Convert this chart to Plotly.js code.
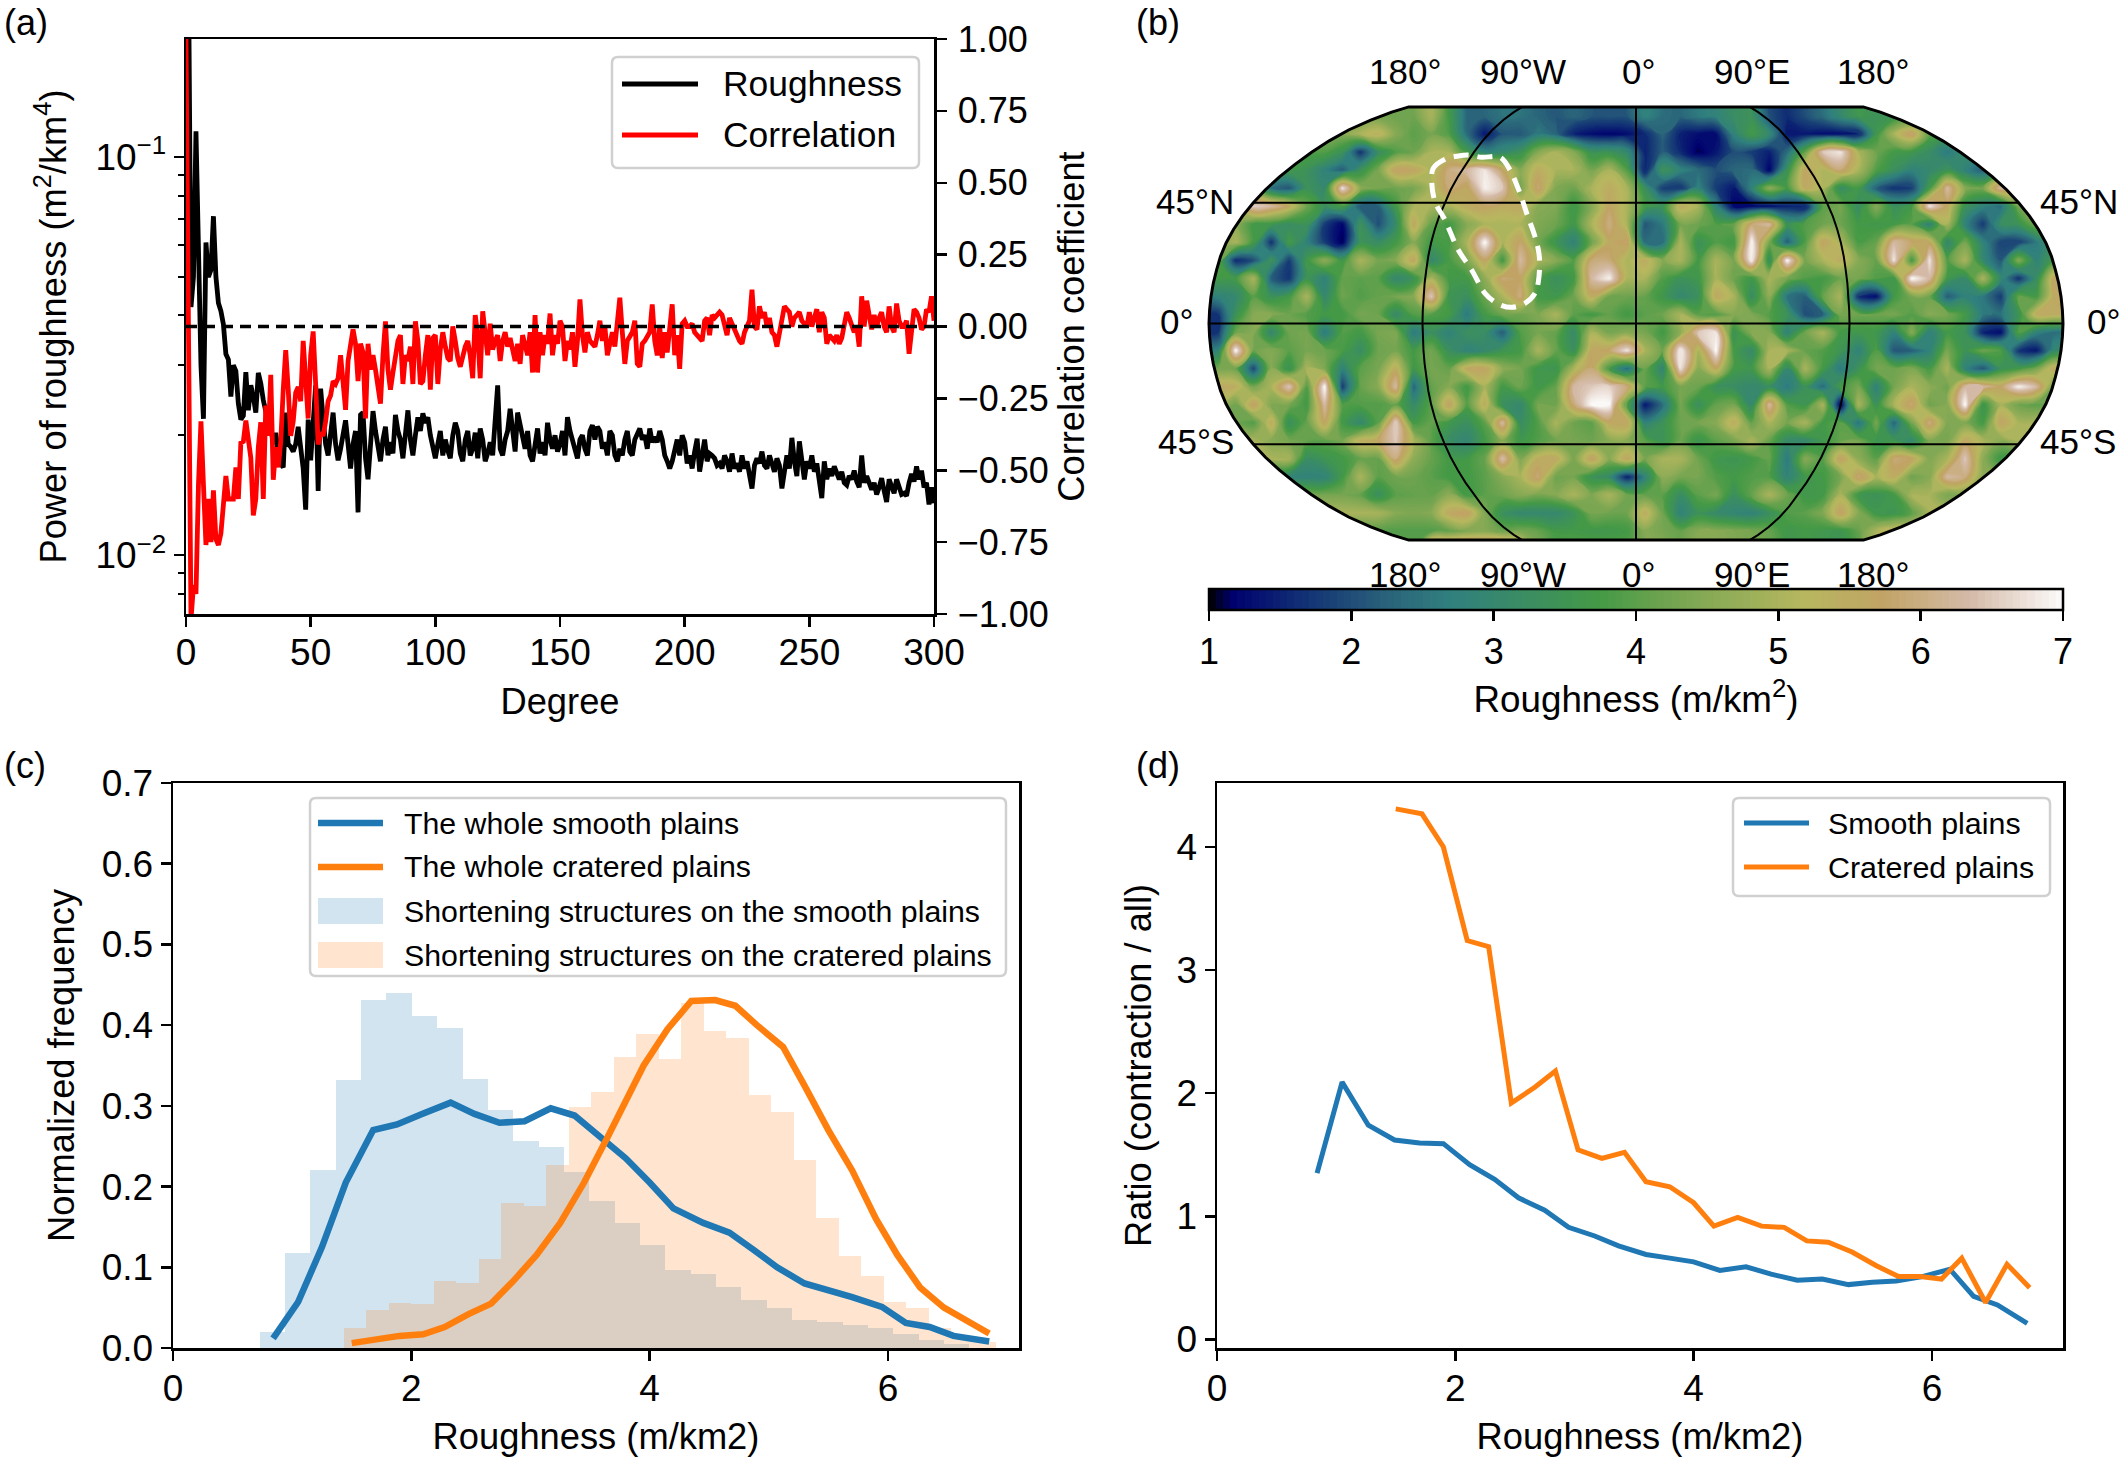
<!DOCTYPE html>
<html><head><meta charset="utf-8">
<script src="https://cdn.plot.ly/plotly-3.0.1.min.js"></script>
<style>html,body{margin:0;padding:0;background:#fff}</style></head>
<body><div id="chart" style="width:2128px;height:1465px"></div>
<script>
// ---------- panel (a): degree index = array index ----------
const roughness = [
.5,.3,.042,.05,.116,.06,.03,.022,.061,.05,.052,.071,.05,.043,.041,.038,.032,.031,.025,.03,
.029,.024,.0219,.0224,.0288,.0231,.0267,.025,.0228,.0287,.027,.0245,.023,.02,.021,.019,.0203,.018,.017,.0166,
.0228,.019,.0187,.0182,.019,.021,.018,.0165,.013,.0219,.0173,.0225,.0267,.0145,.0262,.022,.019,.0178,.02,.0228,
.019,.0173,.0185,.02,.0218,.019,.0165,.019,.0205,.0128,.0225,.0228,.0175,.0155,.019,.023,.0205,.0185,.0172,.0195,
.021,.0178,.0192,.018,.0225,.0205,.0195,.0175,.0205,.0231,.0195,.0178,.02,.0222,.0205,.0227,.0215,.0222,.02,.0185,
.0175,.019,.0205,.0178,.0195,.0183,.0175,.02,.0215,.0205,.018,.0172,.0195,.0205,.0178,.0185,.0203,.0175,.0208,.0195,
.0172,.018,.0192,.0178,.021,.0267,.0185,.0178,.0195,.0205,.0233,.02,.0182,.0228,.021,.0195,.0185,.0205,.0178,.0172,
.0195,.0208,.018,.0192,.0178,.0215,.0195,.0185,.02,.0182,.019,.0205,.0178,.0222,.0205,.0195,.0182,.0175,.0195,.02,
.0185,.0178,.0205,.0212,.0195,.021,.0205,.0185,.0192,.0178,.0205,.02,.0178,.0172,.0185,.0178,.0195,.0205,.0182,.0178,
.0195,.02,.0208,.0195,.02,.0185,.0208,.0192,.0198,.0192,.0205,.0195,.0178,.0172,.0165,.0172,.0182,.0195,.0178,.02,
.0192,.017,.0178,.0165,.0182,.0196,.0162,.0183,.0195,.0172,.018,.0178,.0175,.0168,.017,.0165,.0178,.0172,.0162,.018,
.0165,.017,.0162,.0178,.0165,.0172,.0158,.0147,.0168,.0175,.017,.0182,.0168,.0165,.0178,.017,.0162,.0175,.0168,.0147,
.016,.0178,.0165,.0197,.0172,.0158,.0193,.0168,.0155,.0172,.0165,.0178,.0162,.017,.0152,.0139,.0172,.0155,.0165,.0158,
.0167,.016,.0155,.0162,.0152,.015,.0158,.0155,.0163,.0153,.0148,.0178,.0152,.0158,.015,.0146,.0152,.0142,.0148,.0156,
.0145,.0136,.0155,.0148,.0143,.0155,.0148,.0142,.0143,.0141,.0152,.016,.0153,.0167,.0155,.0163,.0148,.0152,.0134,.0148,.0135
];
const correlation = [
1,-.03,-1.02,-.9,-.93,-.55,-.33,-.55,-.76,-.6,-.75,-.57,-.74,-.76,-.72,-.62,-.52,-.6,-.6,-.6,
-.49,-.6,-.405,-.4,-.327,-.38,-.457,-.657,-.6,-.42,-.333,-.6,-.275,-.38,-.168,-.533,-.42,-.49,-.4,-.22,
-.082,-.22,-.38,-.33,-.23,-.21,-.26,-.05,-.2,-.32,-.1,-.017,-.2,-.41,-.37,-.38,-.33,-.26,-.24,-.19,
-.2,-.18,-.1,-.18,-.29,-.12,-.06,-.01,-.06,-.19,-.06,-.09,-.32,-.06,-.15,-.1,-.15,-.21,-.268,-.1,
.018,-.15,-.22,-.16,-.1,-.05,-.03,-.2,-.1,-.12,-.07,-.2,.018,-.05,-.2,-.19,-.1,-.03,-.22,-.04,
-.03,-.2,-.08,-.02,-.07,-.11,-.12,0,-.05,-.11,-.14,-.1,-.07,-.05,-.1,-.18,.04,-.03,-.18,.053,
-.03,-.1,.01,-.08,-.05,-.03,-.12,-.05,-.02,-.07,-.04,-.09,-.12,-.06,-.13,-.03,-.07,-.1,-.02,-.16,
.04,-.16,-.02,-.1,-.03,-.06,.045,-.1,-.03,-.06,.02,.0,-.12,-.05,-.08,-.02,-.14,-.05,.094,-.03,
-.09,-.02,-.05,-.06,-.07,-.03,.02,-.05,.0,-.1,-.05,-.02,-.07,.0,.1,-.02,-.13,-.05,-.03,-.02,
.02,-.13,-.14,-.06,-.05,-.03,-.02,.077,-.05,-.1,.0,-.11,-.02,-.09,-.02,.077,-.1,-.03,-.147,.01,
.02,.0,.0,.01,-.02,-.03,-.04,-.05,.02,.03,-.03,.04,.03,.04,.05,.04,.0,-.03,.03,.01,
-.02,-.03,-.05,-.06,-.02,.0,.02,.128,.0,-.01,.07,.03,.05,.0,.03,-.02,-.03,-.07,-.02,.02,
.07,.06,.05,.0,.03,.04,.05,.02,.01,.0,.05,.0,.03,.06,-.02,.05,.03,-.06,-.03,-.04,
-.05,-.03,-.06,-.04,.0,.05,.03,.0,-.02,.0,-.07,.105,.0,.09,.03,-.01,.04,.0,.03,.05,
.0,-.02,.07,.0,-.02,.08,.02,.0,.0,.02,-.095,-.02,.06,.05,.03,-.01,.0,.06,.05,.105,.02
];
// ---------- panel (b): roughness grid, rows north to south, columns west to east ----------
const mapRows = [
[4.2,4.2,4.2,4.2,4.2,4.2,4.2,4.2,4.2,4.2,4.2,4.2,5,3.7,2.3,2.3,2.5,2.5,2.3,2.1,2.3,2.1,2.1,2.1,2.8,2.4,2.3,2.6,2.8,3.2,3.4,2,1.6,2,2.4,3,3.6,3.4,3.4,3.4,3.4,3.4,3.4,3.4,3.4,3.4,3.4,3.4],
[4.5,4.5,4.5,4.5,4.5,4.5,4.5,4.5,5,5.4,4.5,4,4.3,3.9,2.4,1.4,2.1,2.1,2.6,2.3,1.5,1.3,1.2,1.3,1.6,2.3,1.5,1.3,1.3,2.8,3.7,3,1.4,1.4,1.3,1.3,1.4,3.6,5,5.9,4,3.6,3.6,3.6,3.6,3.6,3.6,3.6],
[3.9,3.9,3.9,3.9,3.9,3.9,3.9,3.4,1.7,3.2,3.9,4.2,5,5,3.7,2.8,3,3.4,4.5,5,4.5,3.4,3.4,3,1.5,2.2,1.6,1.1,1.4,2,1.8,1.5,2.4,4.1,6.5,6.8,5,4.2,3.7,3.6,3.2,2.6,3.1,3.1,3.1,3.1,3.1,3.1],
[3.7,3.7,3.7,3.7,3.7,3.4,2.8,2.2,3.4,4.3,5.8,5.7,5,6,6.3,6.8,5.7,4.5,5.5,5,5,4.3,5,3.9,1.4,3.4,2.8,2.4,2,2.3,2.4,1.2,3.4,5.7,5,5.9,5,3.9,3.3,2.8,3,3.4,2.8,2.2,3.2,3.2,3.2,3.2],
[3.7,3.7,3.7,2.4,2.1,3.4,3,6.8,4.6,4.3,4.2,4.3,5,5.9,5.6,6.9,6.5,4.3,5.9,4.4,4.2,5,5.5,5,3.3,1.8,1.7,2.8,1.8,1.4,2.8,4.6,3.7,5.6,5,3.2,3.7,2.2,1.7,1.8,3.7,6.3,4.5,4.3,6.3,5.6,5,5],
[5,5,6.6,6.3,5.6,4.2,3.3,3.7,2.1,2.2,3.7,5,5,5,5.5,5.7,5.5,5.6,4.5,4.4,3.6,4.5,5.7,5,3.7,3.4,5.5,5,2.8,1.2,1.2,1.3,1.5,1.3,4,4.3,3.2,4.5,3.3,3.7,6.8,5.6,3.4,2.8,2.4,4.3,4.3,4.3],
[4.6,4.6,3.7,3.6,3.2,3.4,1.8,1.2,3.4,2,3.1,5.6,4.1,3.7,4.5,5,5,5,4.4,4.2,3.6,5,6,5,2.1,2.6,4.3,4.2,3.9,4.1,5.9,6.3,3.4,3.9,4.2,4.2,3.7,3.6,3.7,4,2.8,5,2.8,1.8,3.2,3.4,4.3,4.3],
[4.5,5,3.7,1.7,3.7,2.8,1.8,1.1,3.4,3.2,3.7,4.5,3.7,3.8,5,7,5,5.8,4.3,3.5,2.8,4.2,5.6,5.8,2.4,2.4,5,3.4,3.9,3.7,7,4.3,2.2,3.9,5.7,5,3.8,4.1,6.3,5.8,5.6,3,4.3,2.8,1.9,1.8,2.6,3.4],
[4.2,1.6,2,3.4,1.8,3.6,4.6,3.6,5,4.3,4.5,5.7,3,3.8,4.4,5.7,3.7,6.3,5,4.5,3.9,5.9,5.9,5,5.5,4.5,5,3.7,5,4.3,7,3.2,7,4.3,5,5.5,4.5,4.1,6.8,3.7,6.8,3.9,5,3,2.1,4.5,2.8,3.7],
[3.7,3.7,5,2.2,1.7,3.5,2.8,4.1,4,4,3,3.4,5,3.7,3.7,4.6,5.9,5.7,3.9,3.3,3.7,6.3,6.9,5,5,3.9,3.4,3.6,5,4.2,3.6,5,4.3,3.9,3.7,4.2,4.3,3.9,3.6,7,6.3,3.6,3.1,5,3,1.7,3.2,5.7],
[2.8,3,4,3.4,3.7,5,3,4.2,3.9,4.1,4.3,4.5,6.5,3.5,3.3,4.2,5,6,3.7,3.6,4.2,5.5,4.2,4.2,4.1,3.6,3,3.3,5.6,5,3.2,4.6,2.5,2.2,4.1,5,1.6,1.3,3.7,4.3,4.2,2.2,2.8,2.6,1.8,4.1,3.7,5.6],
[1.7,3.4,4.5,4.5,4.2,3.9,3.7,3.7,4.3,4.2,3.1,3.9,3.9,3.7,2.6,3.7,4.2,4.2,4.4,5,4,3.7,4.1,3.7,4,4.2,5,4,3.9,4.5,4.4,3.9,3.4,2,2.2,4.3,4.2,4.2,4.3,3.9,4.5,4.3,3.7,2.6,2.5,3.4,5.5,5.5],
[1.7,4.2,4.5,3,4.2,4.3,2.6,3.9,3.7,4.3,4.4,2.6,3.3,2.8,3.3,3.2,2.2,3.9,4.3,4.1,3.1,5,4.3,4.5,4.3,3.7,4.6,6.5,6.8,3.4,4.5,4.5,2.8,4.2,5,3.7,3.6,3.6,2.8,4.5,2.7,3.7,3.4,1.5,1.3,3.9,2.8,2.4],
[2.8,7,4.2,4.5,4,4.3,4.2,3.8,3.2,4.2,4.3,3.7,4.3,3.3,2.8,3,3.5,3.7,5,4.1,3.3,5.6,5.8,6.8,5,4.2,7,5,7,3.7,3.1,5,5,4.1,3.9,3.5,2.8,3.9,2.1,2.2,2.8,4.3,3.4,4.2,3.9,1.7,1.4,3],
[4.3,4.2,1.9,4.6,3.4,5,4.4,2.8,4,4.3,5.5,3.6,4.3,4.1,5.6,5.7,4.6,4.3,3.6,3.5,5,5.9,3.7,2.4,4.2,2.9,6.8,4.5,5.6,3.7,3.6,5,3,5,3.7,2.6,3.4,4.3,4.2,4.4,3.7,5,2.8,2.1,3.4,3.7,4.3,5.6],
[5.6,5.5,4.3,5,6.5,3.9,7,1.8,4.1,4.5,6.3,2.3,4.1,4.5,3.7,5,3.7,4.2,3.6,4.1,6.3,6.5,6.6,5.9,4,3.7,4.3,4.2,3.3,3.2,3,3.2,2.6,3.4,2.4,3.7,4.3,2.8,4.3,5,4.6,4.2,6.3,6.3,5.7,6.9,6.3,4.2],
[5,4.2,5.8,4.4,4.3,3.7,6.3,3.9,3.9,3.9,4.1,3.1,4,5.8,3.9,5.5,3.3,3,4.3,4.2,5.9,7,7,3.9,1.4,2.4,4.3,3.3,4.1,4.3,3,6.3,3.9,3.5,5,1.1,5,3.4,5,5.9,4.2,4.5,7,3.5,5,4.2,4,4.2],
[4.2,4.2,3.9,5.5,3.3,4.1,5.7,3.7,3,4,6.7,3.7,4.1,3.6,3.3,4,6.3,3.2,3.9,5,4.2,4,5.6,5.7,2.8,3.4,4.2,4.3,4.5,5.5,4.1,5,4.3,5,3.7,4,2.5,4.3,2.3,4.3,6,4.4,4.4,3.7,5.7,5,5,5],
[5,5,5,4.5,4.3,4.1,4,4.3,5.5,5.7,6.5,5,4,3.2,2.9,3.7,4.5,3.6,3.9,4.2,4.3,4.2,4.5,4.5,4,3.4,4.2,3.5,4,4.3,5,4.1,3.1,3,3.6,4.1,4.3,3.5,3.5,3,4.4,4.3,5.6,5,4.5,5,5,5],
[5,5,5,5,5,3.2,3.5,3.7,4.1,4.1,6,4.6,4.1,3.7,3.7,4.1,6.4,4.4,5.5,5.6,4.3,5.8,4.5,5.7,4.3,5,5,4.2,3.6,3.5,3.7,4.1,2.6,4.5,3.9,5.8,4.6,4,5.9,5.7,4.4,5,6.5,4.6,3.6,3.6,3.6,3.6],
[2.8,2.8,2.8,2.8,2.8,2.8,2.8,3.7,5,4,4.2,4.2,4,3.7,3.7,4,4.5,5,5.9,4.2,4.3,3.4,3.1,1.5,2.8,4.6,4.3,4.3,3.9,3.7,3.9,3.9,2.8,3.6,3.7,4.3,5.9,5,5.5,4.2,4.5,6.3,6,4.5,4.5,4.5,4.5,4.5],
[4.3,4.3,4.3,4.3,4.3,4.3,4.3,4.3,4.1,3.3,4,4.1,4.1,4.6,3.7,4,4.2,4.5,4.3,4.5,5,4.4,5,4.2,4.1,4,3.2,4,4.3,3.3,4.1,5,4.2,3.6,3.7,5,3.6,3.4,3.7,5,5,4.3,4.3,4.3,4.3,4.3,4.3,4.3],
[5,5,5,5,5,5,5,5,5,5,4.5,4.4,4.5,5.6,5.8,4.4,3.3,3,3,3,3.4,4.3,4.2,4.2,5.5,4.2,2.8,3.4,3.1,2.9,2.8,3.3,3.9,4,4.4,5.8,4.5,3.6,3.5,4,5,5,5,5,5,5,5,5],
[3.9,3.9,3.9,3.9,3.9,3.9,3.9,3.9,3.9,3.9,3.9,3.9,3.9,4.1,4.4,4.5,4.2,4.3,4.1,3.7,3.7,3.6,3.6,3.7,4.5,4.3,4.1,4.5,4.5,4.4,4.3,4.1,3.6,3.7,3.6,3.5,4.1,5,5.5,5.5,5.5,5.5,5.5,5.5,5.5,5.5,5.5,5.5]
];
// the pale rim along the southern edge of the map, just outside the last grid row
const southRim = [4,4,4,4,4,4,4,4,4,4,4,4,7,7,7,7,7,6,4.5,4,4,4,4,4,4.5,4.5,4.2,4.5,4.5,4.4,4.3,4.1,3.6,3.7,3.6,3.5,4.1,5,5.5,5.5,5.5,5.5,5.5,5.5,5.5,5.5,5.5,5.5];
const outlineX = [-.4785,-.4747,-.4473,-.4161,-.3927,-.3614,-.3185,-.2951,-.2717,-.256,-.2365,-.2264,-.2287,-.2365,-.26,-.2911,-.3225,-.3536,-.3848,-.4161,-.4473,-.4707,-.4785];
const outlineY = [.336,.3634,.3845,.3923,.3946,.3892,.3892,.3595,.3049,.2581,.2033,.1565,.0979,.0707,.0473,.0379,.0457,.0707,.1253,.1721,.2424,.2852,.336];
const robinsonX = [1,.9986,.9954,.99,.9822,.973,.96,.9427,.9216,.8962,.8679,.835,.7986,.7597,.7186,.6732,.6213,.5722,.5322];
const robinsonY = [0,.062,.124,.186,.248,.31,.372,.434,.4958,.5571,.6176,.6769,.7346,.7903,.8435,.8936,.9394,.9761,1];
const lonLabels = ["180°","90°W","0°","90°E","180°"];
const earthStops = [[0,'#000000'],[.0275,'#00006e'],[.1098,'#113075'],[.2078,'#2a627a'],[.2824,'#30807f'],[.4588,'#459a46'],[.549,'#78a552'],[.698,'#b7b75f'],[.7882,'#c1a365'],[.8941,'#d5bcaa'],[1,'#fdfbfb']];
// ---------- panel (c) ----------
const blueX = [.84,1.05,1.25,1.45,1.68,1.88,2.09,2.33,2.53,2.74,2.95,3.17,3.37,3.58,3.8,4,4.2,4.45,4.67,4.87,5.07,5.3,5.5,5.7,5.95,6.15,6.35,6.55,6.85];
const blueFreq = [.012,.057,.125,.205,.27,.277,.29,.304,.29,.279,.281,.297,.288,.262,.235,.205,.173,.155,.143,.122,.1,.08,.072,.063,.051,.031,.026,.015,.008];
const orangeX = [1.5,1.72,1.9,2.1,2.28,2.48,2.67,2.85,3.05,3.25,3.45,3.65,3.75,3.95,4.15,4.35,4.55,4.72,4.9,5.12,5.3,5.5,5.7,5.9,6.08,6.27,6.47,6.65,6.85];
const orangeFreq = [.006,.012,.015,.017,.026,.042,.055,.082,.115,.155,.205,.262,.29,.35,.395,.43,.431,.424,.4,.373,.325,.27,.22,.16,.115,.075,.05,.035,.018];
const histBlue = [.02,.118,.22,.332,.431,.44,.411,.396,.333,.295,.256,.249,.218,.182,.155,.128,.097,.092,.076,.06,.05,.035,.032,.028,.025,.017,.01,.005];
const histOrange = [.025,.047,.056,.054,.083,.081,.11,.18,.176,.227,.298,.317,.36,.389,.358,.428,.393,.384,.313,.293,.233,.161,.114,.089,.057,.05,.025,.012,.008];
const histBlueStart = .728, histBlueWidth = .2127, histOrangeStart = 1.433, histOrangeWidth = .1888;
// ---------- panel (d) ----------
const ratioBlueX = [.84,1.05,1.27,1.49,1.7,1.9,2.12,2.33,2.53,2.75,2.95,3.17,3.37,3.6,3.8,4,4.22,4.44,4.65,4.87,5.08,5.3,5.5,5.7,5.92,6.15,6.35,6.55,6.8];
const ratioBlue = [1.35,2.09,1.74,1.62,1.595,1.59,1.42,1.3,1.15,1.05,.91,.84,.76,.69,.66,.63,.56,.59,.53,.48,.49,.445,.465,.475,.51,.57,.35,.28,.13];
const ratioOrangeX = [1.5,1.72,1.9,2.1,2.28,2.47,2.67,2.84,3.03,3.23,3.42,3.6,3.8,4,4.17,4.37,4.57,4.76,4.95,5.13,5.33,5.53,5.72,5.9,6.08,6.25,6.45,6.63,6.82];
const ratioOrange = [4.31,4.27,4,3.24,3.19,1.92,2.05,2.18,1.54,1.47,1.52,1.28,1.24,1.11,.92,.99,.92,.91,.8,.79,.71,.6,.51,.51,.49,.66,.3,.61,.42];

const W = 2128, H = 1465, FONT = 'Liberation Sans, Arial, sans-serif', FS = 37, TS = 36.3;
const BLUE = '#1f77b4', ORANGE = '#ff7f0e';
const px = x => x / W, py = y => 1 - y / H;
const domX = (a, b) => [px(a), px(b)], domY = (top, bot) => [py(bot), py(top)];
const axisBase = {showline:true, linecolor:'#000', linewidth:2.5, ticks:'outside', ticklen:10, tickwidth:2.5, tickcolor:'#000',
  showgrid:false, zeroline:false, automargin:true, tickfont:{size:FS, family:FONT, color:'#000'}};
const title = (t, standoff) => ({text:t, standoff, font:{size:TS, family:FONT, color:'#000'}});

const degree = roughness.map((_, i) => i);
const seqCenters = (start, w, n) => Array.from({length:n}, (_, i) => start + w * (i + .5));

// Robinson outline and graticule from the projection table
const latNodes = robinsonX.map((_, i) => i * 5);
const MAPY = .5072;
const meridian = lon => {
  const xs = [], ys = [];
  for (let i = latNodes.length - 1; i > 0; i--) { xs.push(robinsonX[i] * lon / 180); ys.push(-MAPY * robinsonY[i]); }
  for (let i = 0; i < latNodes.length; i++) { xs.push(robinsonX[i] * lon / 180); ys.push(MAPY * robinsonY[i]); }
  return {xs, ys};
};
const parallel = idx => ({xs:[-robinsonX[idx], robinsonX[idx]], ys:[MAPY * robinsonY[idx], MAPY * robinsonY[idx]]});
const m1 = meridian(180), m2 = meridian(-180);
const outlinePts = m1.xs.map((x, i) => [x, m1.ys[i]]).concat(m2.xs.map((x, i) => [x, m2.ys[i]]).reverse());
const maskPath = 'M-1.2,-.7L1.2,-.7L1.2,.7L-1.2,.7Z M' + outlinePts.map(p => p[0] + ',' + p[1]).join('L') + 'Z';

// grid centres, with the edge rows and columns repeated once so the filled contours reach the map outline
const nCols = mapRows[0].length, nRows = mapRows.length;
const cellX = 2 / nCols, cellY = 2 * MAPY / nRows;
const mapX = Array.from({length:nCols + 2}, (_, i) => -1 + cellX * (i - .5));
const mapY = Array.from({length:nRows + 2}, (_, j) => -MAPY + cellY * (j - .5));
const padRow = r => [r[0]].concat(r, [r[r.length - 1]]);
const southUp = mapRows.slice().reverse().map(padRow);
const mapZ = [padRow(southRim)].concat(southUp, [southUp[southUp.length - 1]]);

const gratTrace = (g) => ({type:'scatter', mode:'lines', x:g.xs, y:g.ys, xaxis:'x2', yaxis:'y3', showlegend:false, hoverinfo:'skip', line:{color:'#000', width:2}});

const traces = [
  {type:'scatter', mode:'lines', x:degree, y:roughness, xaxis:'x', yaxis:'y', name:'Roughness', showlegend:false, line:{color:'#000', width:4.8}},
  {type:'scatter', mode:'lines', x:degree, y:correlation, xaxis:'x', yaxis:'y2', name:'Correlation', showlegend:false, line:{color:'#ff0000', width:4.8}},
  {type:'scatter', mode:'lines', x:[0,300], y:[0,0], xaxis:'x', yaxis:'y2', showlegend:false, hoverinfo:'skip', line:{color:'#000', width:3.5, dash:'11px,7px'}},
  {type:'contour', x:mapX, y:mapY, z:mapZ, xaxis:'x2', yaxis:'y3', zmin:1, zmax:7, zauto:false, autocontour:false,
    contours:{start:1, end:7, size:.05, coloring:'fill', showlines:false}, line:{width:0, smoothing:1.3}, colorscale:earthStops,
    colorbar:{orientation:'h', x:px(1636), xanchor:'center', y:py(589), yanchor:'top', lenmode:'pixels', len:854, thicknessmode:'pixels', thickness:21,
      xpad:0, ypad:0, outlinewidth:2.5, outlinecolor:'#000', tickmode:'array', tickvals:[1,2,3,4,5,6,7], ticks:'outside', ticklen:10, tickwidth:2.5, tickcolor:'#000',
      tickfont:{size:36, family:FONT, color:'#000'}, title:{text:'Roughness (m/km<sup>2</sup>)', side:'bottom', font:{size:36.8, family:FONT, color:'#000'}}}},
  gratTrace(meridian(-90)), gratTrace(meridian(0)), gratTrace(meridian(90)),
  gratTrace(parallel(0)), gratTrace(parallel(9)),
  gratTrace({xs:parallel(9).xs, ys:parallel(9).ys.map(v => -v)}),
  {type:'scatter', mode:'lines', x:outlineX, y:outlineY, xaxis:'x2', yaxis:'y3', showlegend:false, hoverinfo:'skip', line:{color:'#fff', width:5, dash:'15px,9px', shape:'spline'}},
  {type:'bar', x:seqCenters(histBlueStart, histBlueWidth, histBlue.length), y:histBlue, width:histBlueWidth, xaxis:'x3', yaxis:'y4', showlegend:false, marker:{color:BLUE, opacity:.2, line:{width:0}}},
  {type:'bar', x:seqCenters(histOrangeStart, histOrangeWidth, histOrange.length), y:histOrange, width:histOrangeWidth, xaxis:'x3', yaxis:'y4', showlegend:false, marker:{color:ORANGE, opacity:.2, line:{width:0}}},
  {type:'scatter', mode:'lines', x:blueX, y:blueFreq, xaxis:'x3', yaxis:'y4', showlegend:false, line:{color:BLUE, width:6.5}},
  {type:'scatter', mode:'lines', x:orangeX, y:orangeFreq, xaxis:'x3', yaxis:'y4', showlegend:false, line:{color:ORANGE, width:6.5}},
  {type:'scatter', mode:'lines', x:ratioBlueX, y:ratioBlue, xaxis:'x4', yaxis:'y5', showlegend:false, line:{color:BLUE, width:5}},
  {type:'scatter', mode:'lines', x:ratioOrangeX, y:ratioOrange, xaxis:'x4', yaxis:'y5', showlegend:false, line:{color:ORANGE, width:5}}
];

const minorLog = [.008,.009,.02,.03,.04,.05,.06,.07,.08,.09,.2];
const layout = {
  width:W, height:H, paper_bgcolor:'#fff', plot_bgcolor:'rgba(0,0,0,0)', showlegend:false, barmode:'overlay', bargap:0,
  font:{family:FONT, size:FS, color:'#000'}, margin:{l:0, r:0, t:0, b:0, autoexpand:false},
  xaxis:Object.assign({}, axisBase, {domain:domX(186,934), range:[0,300], dtick:50, anchor:'y', mirror:true, ticklabelstandoff:-6, title:title('Degree',17)}),
  yaxis:Object.assign({}, axisBase, {domain:domY(39,614), type:'log', range:[-2.148,-.7035], anchor:'x', tickmode:'array', tickvals:[.01,.1], ticktext:['10<sup>−2</sup>','10<sup>−1</sup>'],
    minor:{tickmode:'array', tickvals:minorLog, ticks:'outside', ticklen:6, tickwidth:2, tickcolor:'#000'}, title:title('Power of roughness (m<sup>2</sup>/km<sup>4</sup>)',18)}),
  yaxis2:Object.assign({}, axisBase, {domain:domY(39,614), range:[-1,1], overlaying:'y', anchor:'x', side:'right', dtick:.25, tickformat:'.2f', tickfont:{size:36, family:FONT, color:'#000'}, ticklabelstandoff:4, title:title('Correlation coefficient',11)}),
  xaxis2:{domain:domX(1203,2069), range:[-433/427,433/427], visible:false, anchor:'y3', fixedrange:true},
  yaxis3:{domain:domY(100,546), range:[(323.5-546)/427,(323.5-100)/427], visible:false, anchor:'x2', fixedrange:true},
  xaxis3:Object.assign({}, axisBase, {domain:domX(173,1019), range:[0,7.1], tickvals:[0,2,4,6], anchor:'y4', mirror:true, ticklabelstandoff:-4, title:title('Roughness (m/km2)',16)}),
  yaxis4:Object.assign({}, axisBase, {domain:domY(783,1348), range:[0,.7], dtick:.1, tickformat:'.1f', anchor:'x3', mirror:true, title:title('Normalized frequency',16)}),
  xaxis4:Object.assign({}, axisBase, {domain:domX(1217,2063), range:[0,7.1], tickvals:[0,2,4,6], anchor:'y5', mirror:true, ticklabelstandoff:-4, title:title('Roughness (m/km2)',16)}),
  yaxis5:Object.assign({}, axisBase, {domain:domY(783,1348), range:[-.07,4.52], tickvals:[0,1,2,3,4], anchor:'x4', mirror:true, title:title('Ratio (contraction / all)',14)}),
  shapes:[{type:'path', xref:'x2', yref:'y3', path:maskPath, fillcolor:'#fff', fillrule:'evenodd', line:{color:'#000', width:3}, layer:'above'}],
  annotations:[]
};
const note = (text, x, y, anchor, size) => layout.annotations.push({text, xref:'paper', yref:'paper', x:px(x), y:py(y), xanchor:anchor||'center', yanchor:'middle', showarrow:false, font:{size:size||35, family:FONT, color:'#000'}});
[['(a)',2,23],['(b)',1134,23],['(c)',2,765],['(d)',1134,765]].forEach(a => note(a[0], a[1], a[2], 'left', 36));
const lonPx = [1405,1523,1638,1752,1873];
lonLabels.forEach((t, i) => { note(t, lonPx[i], 71); note(t, lonPx[i], 574); });
note('45°N',1236,201,'right'); note('0°',1195,321,'right'); note('45°S',1236,442,'right');
note('45°N',2038,201,'left'); note('0°',2085,321,'left'); note('45°S',2038,442,'left');

// legend boxes
function legendBox(l, t, r, b, rows, size, swX0, swX1, txtX) {
  const R = 6;
  const fx = v => px(v).toFixed(5), fy = v => py(v).toFixed(5);
  const path = `M${fx(l+R)},${fy(t)}L${fx(r-R)},${fy(t)}Q${fx(r)},${fy(t)} ${fx(r)},${fy(t+R)}L${fx(r)},${fy(b-R)}Q${fx(r)},${fy(b)} ${fx(r-R)},${fy(b)}L${fx(l+R)},${fy(b)}Q${fx(l)},${fy(b)} ${fx(l)},${fy(b-R)}L${fx(l)},${fy(t+R)}Q${fx(l)},${fy(t)} ${fx(l+R)},${fy(t)}Z`;
  layout.shapes.push({type:'path', xref:'paper', yref:'paper', path, fillcolor:'rgba(255,255,255,.8)', line:{color:'#d0d0d0', width:2.5}, layer:'above'});
  rows.forEach(row => {
    if (row.kind === 'line') layout.shapes.push({type:'line', xref:'paper', yref:'paper', x0:px(swX0), x1:px(swX1), y0:py(row.y), y1:py(row.y), line:{color:row.color, width:row.w}, layer:'above'});
    else layout.shapes.push({type:'rect', xref:'paper', yref:'paper', x0:px(swX0), x1:px(swX1), y0:py(row.y-13), y1:py(row.y+13), fillcolor:row.color, opacity:.2, line:{width:0}, layer:'above'});
    note(row.label, txtX, row.y, 'left', size);
  });
}
legendBox(612,57,919,168,[
  {label:'Roughness', color:'#000', kind:'line', w:5, y:84},
  {label:'Correlation', color:'#ff0000', kind:'line', w:5, y:135}], 35.4, 622, 698, 721);
legendBox(310,798,1006,976,[
  {label:'The whole smooth plains', color:BLUE, kind:'line', w:6.5, y:823},
  {label:'The whole cratered plains', color:ORANGE, kind:'line', w:6.5, y:867},
  {label:'Shortening structures on the smooth plains', color:BLUE, kind:'rect', y:911},
  {label:'Shortening structures on the cratered plains', color:ORANGE, kind:'rect', y:955}], 30.3, 318, 383, 402);
legendBox(1733,798,2050,896,[
  {label:'Smooth plains', color:BLUE, kind:'line', w:5, y:823},
  {label:'Cratered plains', color:ORANGE, kind:'line', w:5, y:867}], 30.4, 1744, 1809, 1826);

Plotly.newPlot('chart', traces, layout, {staticPlot:true, displayModeBar:false});
</script></body></html>
